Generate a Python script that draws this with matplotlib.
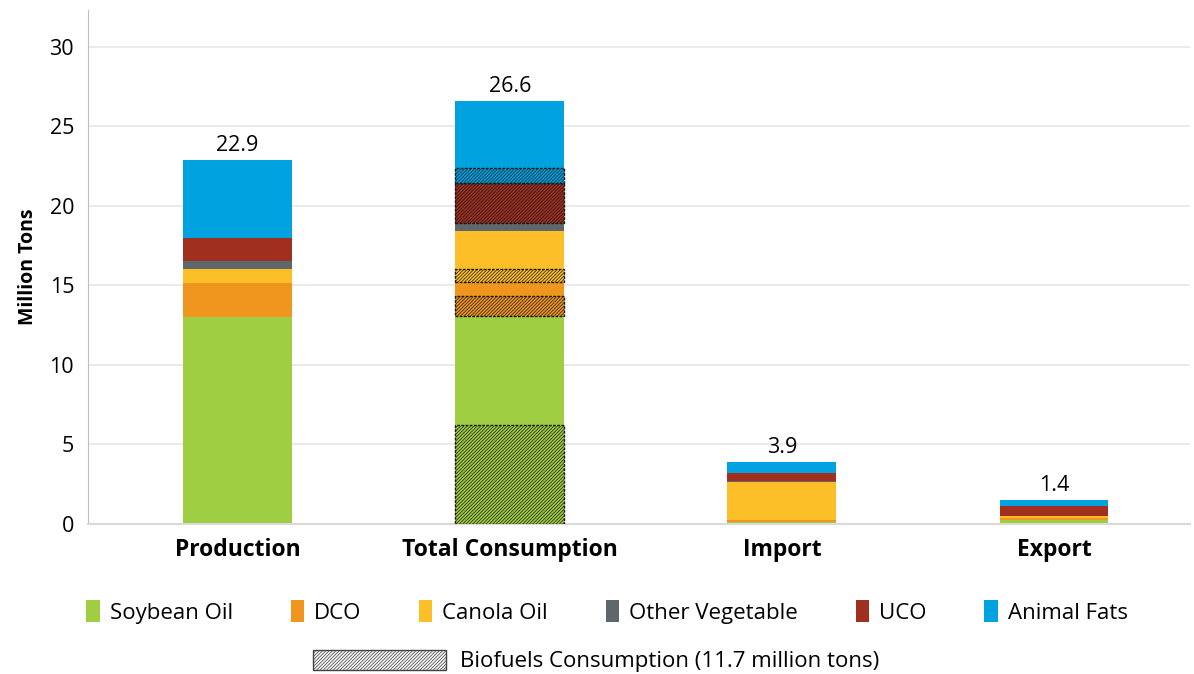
import matplotlib.pyplot as plt
from matplotlib.patches import Patch
import numpy as np

plt.rcParams['font.family'] = ['Open Sans', 'DejaVu Sans']
plt.rcParams['hatch.linewidth'] = 0.5

categories = ["Production", "Total Consumption", "Import", "Export"]
fats = ["Soybean Oil", "DCO", "Canola Oil", "Other Vegetable", "UCO", "Animal Fats"]
colors = ["#9fce42", "#f0961f", "#fdbf27", "#5e686c", "#a02f1f", "#00a3e0"]

# million tons per fat, for each category
soybean = [13.0, 13.05, 0.13, 0.28]
dco = [2.15, 2.15, 0.12, 0.1]
canola = [0.85, 3.2, 2.37, 0.12]
other_veg = [0.5, 0.5, 0.1, 0.02]
uco = [1.5, 2.55, 0.5, 0.58]
animal = [4.9, 5.15, 0.68, 0.4]

# part of total consumption that goes to biofuels (per fat)
biofuel = [6.2, 1.3, 0.8, 0.0, 2.55, 0.95]
totals = [22.9, 26.6, 3.9, 1.4]

series = [soybean, dco, canola, other_veg, uco, animal]

fig = plt.figure(figsize=(11.94, 6.74), dpi=100)
ax = fig.add_axes([0.0737, 0.2226, 0.923, 0.7625])

x = np.arange(len(categories))
w = 0.4
bottom = np.zeros(len(categories))
for i, vals in enumerate(series):
    vals = np.array(vals)
    ax.bar(x, vals, w, bottom=bottom, color=colors[i], linewidth=0, zorder=2)
    # hatched biofuel slice sits at the bottom of each consumption segment
    if biofuel[i] > 0:
        ax.bar(x[1], biofuel[i], w, bottom=bottom[1], color=colors[i],
               edgecolor="#1a1a1a", hatch="//////////", linewidth=1.0,
               linestyle=(0, (2, 1)), zorder=3)
    bottom += vals

for xi, t in zip(x, totals):
    ax.text(xi, bottom[xi] + 0.25, f"{t:.1f}", ha="center", va="bottom", fontsize=15.5)

ax.set_xlim(-0.55, 3.5)
ax.set_ylim(0, 32.3)
ax.set_yticks(range(0, 31, 5))
ax.yaxis.grid(True, color="#e6e6e6", linewidth=1.2, zorder=0)
ax.set_axisbelow(True)
ax.set_xticks(x)
ax.set_xticklabels(categories, fontweight="bold", fontsize=16.5)
ax.tick_params(axis="y", labelsize=15.5, length=0, pad=10)
ax.tick_params(axis="x", length=0, pad=10)
ax.set_ylabel("Million Tons", fontweight="bold", fontsize=14, labelpad=8)
for s in ["top", "right"]:
    ax.spines[s].set_visible(False)
ax.spines["left"].set_color("#bfbfbf")
ax.spines["bottom"].set_color("#d9d9d9")
ax.spines["bottom"].set_linewidth(1.5)

handles = [Patch(facecolor=c, label=f) for c, f in zip(colors, fats)]
fig.legend(handles=handles, ncol=6, loc="center",
           bbox_to_anchor=(607 / 1194, 1 - 612 / 674), frameon=False,
           fontsize=16, handlelength=0.6, handleheight=1.1,
           handletextpad=0.45, columnspacing=2.6)
hatch_handle = Patch(facecolor="#f4f4f4", edgecolor="#444444", hatch="//////////",
                     label="Biofuels Consumption (11.7 million tons)")
fig.legend(handles=[hatch_handle], loc="center",
           bbox_to_anchor=(596 / 1194, 1 - 661 / 674), frameon=False,
           fontsize=16, handlelength=6.0, handleheight=1.0, handletextpad=0.6)

fig.savefig("out.png", dpi=100)
